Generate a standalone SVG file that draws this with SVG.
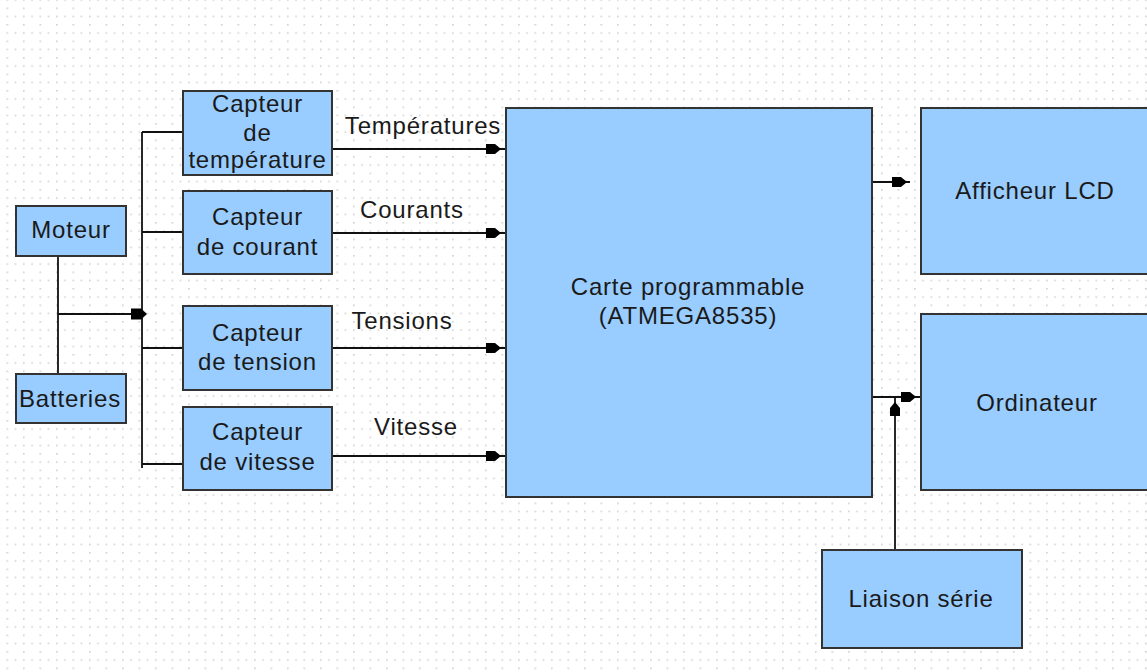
<svg xmlns="http://www.w3.org/2000/svg" width="1147" height="672" viewBox="0 0 1147 672">
<style>
.box{fill:#99CCFF;stroke:#333;stroke-width:2}
.ln{fill:none;stroke:#111;stroke-width:1.8}
.ah{fill:#000}
text{font-family:"Liberation Sans",Arial,sans-serif;font-size:24px;letter-spacing:0.8px;fill:#1a1a1a;text-anchor:middle}
</style>
<defs>
<pattern id="grid" patternUnits="userSpaceOnUse" x="6.5" y="7.5" width="16.5" height="16.5">
<rect x="0" y="0" width="1.6" height="1.6" fill="#cfcfcf"/>
<rect x="0" y="8.25" width="1.6" height="1.6" fill="#cfcfcf"/>
<rect x="8.25" y="8.25" width="1.6" height="1.6" fill="#cfcfcf"/>
</pattern>
</defs>
<rect width="1147" height="672" fill="#fff"/>
<rect width="1147" height="672" fill="url(#grid)"/>

<g id="connectors">
<path class="ln" d="M58,256 V374 M58,314 H142"/>
<path class="ln" d="M142,132 V468 M142,132 H183 M142,232 H183 M142,348 H183 M142,464 H183"/>
<path class="ln" d="M332,149 H506 M332,233 H506 M332,348 H506 M332,456 H506"/>
<path class="ln" d="M872,182 H910"/>
<path class="ln" d="M872,397 H921 M895,550 V397"/>
<path class="ah" d="M131,308.5 L141,308.5 L147,314 L141,319.5 L131,319.5 Z"/>
<path class="ah" d="M486,144 L495,144 L501,149 L495,154 L486,154 Z"/>
<path class="ah" d="M486,228 L495,228 L501,233 L495,238 L486,238 Z"/>
<path class="ah" d="M486,343 L495,343 L501,348 L495,353 L486,353 Z"/>
<path class="ah" d="M486,451 L495,451 L501,456 L495,461 L486,461 Z"/>
<path class="ah" d="M892,177 L901,177 L907,182 L901,187 L892,187 Z"/>
<path class="ah" d="M901,392 L910,392 L916,397 L910,402 L901,402 Z"/>
<path class="ah" d="M890,416 L890,408 L895,402 L900,408 L900,416 Z"/>
<text x="423" y="134">Températures</text>
<text x="412" y="218">Courants</text>
<text x="402" y="329">Tensions</text>
<text x="416" y="435">Vitesse</text>
</g>

<g id="moteur"><rect class="box" x="16" y="206" width="110" height="50"/><text x="71" y="238">Moteur</text></g>
<g id="batteries"><rect class="box" x="16" y="374" width="110" height="49"/><text x="70" y="407">Batteries</text></g>
<g id="capteur-temperature"><rect class="box" x="183" y="91" width="149" height="84"/><text x="257.5" y="112">Capteur</text><text x="257.5" y="141">de</text><text x="257.5" y="168">température</text></g>
<g id="capteur-courant"><rect class="box" x="183" y="191" width="149" height="83"/><text x="257.5" y="225">Capteur</text><text x="257.5" y="255">de courant</text></g>
<g id="capteur-tension"><rect class="box" x="183" y="306" width="149" height="84"/><text x="257.5" y="341">Capteur</text><text x="257.5" y="370">de tension</text></g>
<g id="capteur-vitesse"><rect class="box" x="183" y="407" width="149" height="83"/><text x="257.5" y="440">Capteur</text><text x="257.5" y="470">de vitesse</text></g>
<g id="carte"><rect class="box" x="506" y="108" width="366" height="389"/><text x="688" y="295">Carte programmable</text><text x="688" y="324">(ATMEGA8535)</text></g>
<g id="afficheur"><rect class="box" x="921" y="108" width="240" height="166"/><text x="1035" y="199">Afficheur LCD</text></g>
<g id="ordinateur"><rect class="box" x="921" y="314" width="240" height="176"/><text x="1037" y="411">Ordinateur</text></g>
<g id="liaison"><rect class="box" x="822" y="550" width="200" height="98"/><text x="921" y="607">Liaison série</text></g>
</svg>
